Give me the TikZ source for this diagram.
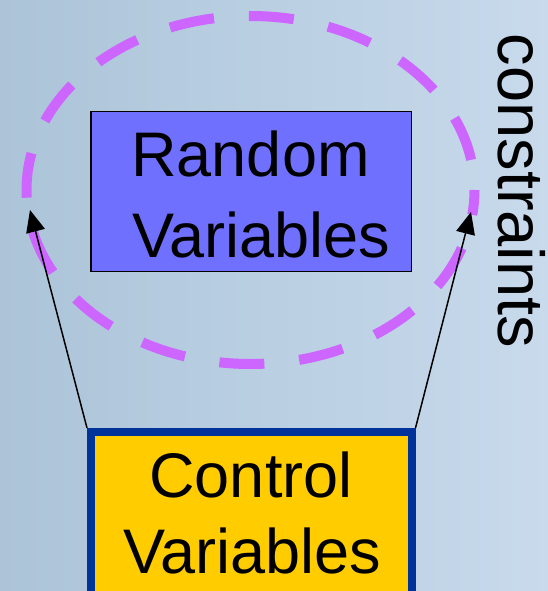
\documentclass[tikz,border=0pt]{standalone}
\usepackage{fontspec}
\setmainfont{Liberation Sans}
\usetikzlibrary{arrows.meta}
\definecolor{bgL}{RGB}{172,196,216}
\definecolor{bgR}{RGB}{200,218,236}
\definecolor{randfill}{RGB}{112,112,255}
\definecolor{ctrlfill}{RGB}{255,204,0}
\definecolor{ctrlborder}{RGB}{0,51,153}
\definecolor{ellcol}{RGB}{204,102,255}
\tikzset{
  bigtext/.style={font=\fontsize{63}{75}\selectfont, text=black, inner sep=0pt, anchor=base},
  randbox/.style={draw=black, line width=1.5pt, fill=randfill, minimum width=320.5pt, minimum height=160pt, inner sep=0pt},
  ctrlbox/.style={draw=ctrlborder, line width=8pt, fill=ctrlfill, minimum width=320.5pt, minimum height=180pt, inner sep=0pt},
  conarrow/.style={line width=1.5pt, -{Triangle[length=22pt,width=19pt]}},
  setring/.style={draw=ellcol, line width=10pt, dash pattern=on 45pt off 35pt, dash phase=20pt}
}
\begin{document}
\begin{tikzpicture}[x=1pt,y=-1pt]
\useasboundingbox (0,0) rectangle (548,591);
\shade[left color=bgL, right color=bgR] (0,0) rectangle (548,591);
\node[randbox] (rand) at (251.3,191.7) {};
\node[bigtext] (randA) at (250.5,176) {Random};
\node[bigtext] (randB) at (261,257) {Variables};
\draw[setring] (250.5,190) ellipse [x radius=224, y radius=174];
\node[ctrlbox] (ctrl) at (251.25,522) {};
\node[bigtext] (ctrlA) at (251,497) {Control};
\node[bigtext] (ctrlB) at (252.5,573) {Variables};
\coordinate (lt) at (30,210);
\coordinate (rt) at (471,212);
\draw[conarrow] (ctrl.north west) -- (lt);
\draw[conarrow] (ctrl.north east) -- (rt);
\node[font=\fontsize{65}{75}\selectfont, text=black, inner sep=0pt, text height=47pt, text depth=0pt, rotate=-90, anchor=base] (cons) at (498,191) {constraints};
\end{tikzpicture}
\end{document}
